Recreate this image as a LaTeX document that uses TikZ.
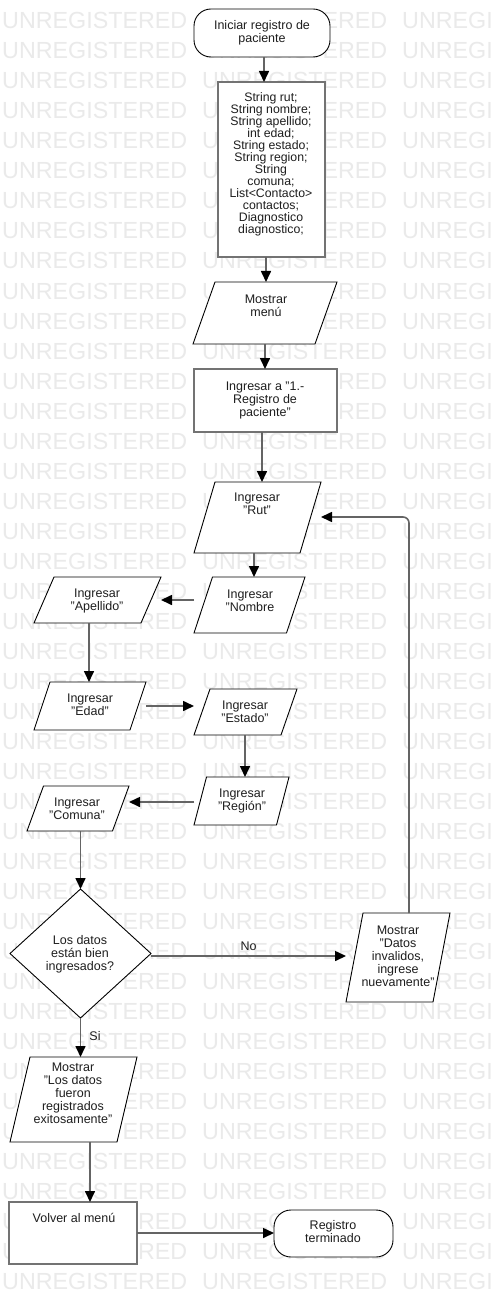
\documentclass[tikz,border=0pt]{standalone}
\usepackage{fontspec}
\setmainfont{Liberation Sans}
\usetikzlibrary{arrows.meta,calc}

\definecolor{wm}{RGB}{234,234,234}
\definecolor{edgecol}{RGB}{100,100,100}
\definecolor{boxcol}{RGB}{115,115,115}
\definecolor{ink}{RGB}{30,30,30}

\tikzset{
  frame/.style={inner sep=0pt, outer sep=0pt},
  txt/.style={align=center, inner sep=0pt, text=ink, font=\fontsize{12.5}{13}\selectfont},
  txtdense/.style={txt, font=\fontsize{12.3}{12}\selectfont},
  termline/.style={draw=black, line width=0.9pt, fill=white, rounded corners=17pt},
  boxline/.style={draw=boxcol, line width=1.8pt, fill=white},
  ioline/.style={draw=black, line width=0.9pt, fill=white, line join=miter},
  arr/.style={draw=edgecol, line width=1.6pt, -{Triangle[length=11pt,width=10pt,color=black]}},
  wmtext/.style={anchor=base west, inner sep=0pt, text=wm, font=\fontsize{23.3}{23.3}\selectfont},
}

% input/output shape: name, left x, right x, top y, bottom y, slant
\newcommand\ioshape[6]{%
  \node[frame, minimum width={#3-#2}, minimum height={#5-#4}] (#1) at ({(#2+#3)/2},{(#4+#5)/2}) {};
  \draw[ioline] (#2+#6,#4) -- (#3,#4) -- (#3-#6,#5) -- (#2,#5) -- cycle;
}
% process box: name, left x, right x, top y, bottom y
\newcommand\procbox[5]{%
  \node[frame, boxline, minimum width={#3-#2}, minimum height={#5-#4}] (#1) at ({(#2+#3)/2},{(#4+#5)/2}) {};
}
% terminator: name, left x, right x, top y, bottom y
\newcommand\termbox[5]{%
  \node[frame, termline, minimum width={#3-#2}, minimum height={#5-#4}] (#1) at ({(#2+#3)/2},{(#4+#5)/2}) {};
}

\begin{document}
\begin{tikzpicture}[x=1pt,y=-1pt]
\useasboundingbox (0,0) rectangle (490,1305);
\fill[white] (0,0) rectangle (490,1305);
\clip (0,0) rectangle (490,1305);

% background watermark rows
\foreach \r in {0,...,42}{
  \foreach \c in {0,1,2}{
    \node[wmtext] (wm-\r-\c) at (2+200*\c, 29+30*\r) {UNREGISTERED};
  }
}

% shapes
\termbox{start}{194}{330}{9}{57}
\procbox{decl}{218}{325}{82}{257}
\ioshape{menu}{193}{337}{282}{344}{22}
\procbox{opt}{194}{337}{369}{432}
\ioshape{rut}{194}{321}{482}{553}{21}
\ioshape{nombre}{194}{305}{577}{633}{18.5}
\ioshape{apellido}{34}{161}{577}{623}{20}
\ioshape{edad}{34}{146}{682}{730}{16}
\ioshape{estado}{194}{297}{689}{735}{16}
\ioshape{region}{194}{289}{777}{825}{12.5}
\ioshape{comuna}{27}{129}{786}{831}{16.5}
\node[frame, minimum width=141, minimum height=129] (check) at (80.5,953.5) {};
\draw[ioline] (check.north) -- (check.east) -- (check.south) -- (check.west) -- cycle;
\ioshape{invalid}{346}{450}{913}{1002}{17}
\ioshape{exito}{10}{137}{1057}{1142}{20}
\procbox{volver}{9}{137}{1202}{1264}
\termbox{fin}{274}{393}{1210}{1257}

% texts
\node[txt] (t-start) at (262,32.5) {Iniciar registro de\\paciente};
\node[txtdense] (t-decl) at (271,164) {String rut;\\String nombre;\\String apellido;\\int edad;\\String estado;\\String region;\\String\\comuna;\\List<Contacto>\\contactos;\\Diagnostico\\diagnostico;};
\node[txt] (t-menu) at (266,305.5) {Mostrar\\menú};
\node[txt] (t-opt) at (265,400) {Ingresar a "1.-\\Registro de\\paciente"};
\node[txt] (t-rut) at (257,503.5) {Ingresar\\"Rut"};
\node[txt] (t-nombre) at (250,600.5) {Ingresar\\"Nombre};
\node[txt] (t-apellido) at (97,600.5) {Ingresar\\"Apellido"};
\node[txt] (t-edad) at (90,704.5) {Ingresar\\"Edad"};
\node[txt] (t-estado) at (245,711.5) {Ingresar\\"Estado"};
\node[txt] (t-region) at (242,800.5) {Ingresar\\"Región"};
\node[txt] (t-comuna) at (77,808.5) {Ingresar\\"Comuna"};
\node[txt] (t-check) at (80,954) {Los datos\\están bien\\ingresados?};
\node[txt] (t-invalid) at (398,956) {Mostrar\\"Datos\\invalidos,\\ingrese\\nuevamente"};
\node[txt] (t-exito) at (73,1093) {Mostrar\\"Los datos\\fueron\\registrados\\exitosamente"};
\node[txt] (t-volver) at (74,1218) {Volver al menú};
\node[txt] (t-fin) at (333,1231.5) {Registro\\terminado};

% connector lanes
\coordinate (lane-a) at (264,0);
\coordinate (lane-b) at (266,0);
\coordinate (lane-c) at (265,0);
\coordinate (lane-d) at (262,0);
\coordinate (lane-e) at (254,0);
\coordinate (lane-f) at (89,0);
\coordinate (lane-g) at (245,0);
\coordinate (lane-h) at (90,0);
\coordinate (lane-loop) at (409,0);
\coordinate (row-a) at (0,600);
\coordinate (row-b) at (0,706);
\coordinate (row-c) at (0,802);
\coordinate (row-no) at (0,956);
\coordinate (row-end) at (0,1233);
\coordinate (row-loop) at (0,517);

% connectors
\draw[arr] (start.south -| lane-a) -- (decl.north -| lane-a);
\draw[arr] (decl.south -| lane-b) -- (menu.north -| lane-b);
\draw[arr] (menu.south -| lane-c) -- (opt.north -| lane-c);
\draw[arr] (opt.south -| lane-d) -- (rut.north -| lane-d);
\draw[arr] (rut.south -| lane-e) -- (nombre.north -| lane-e);
\draw[arr] (nombre.west |- row-a) -- (apellido.east |- row-a);
\draw[arr] (apellido.south -| lane-f) -- (edad.north -| lane-f);
\draw[arr] (edad.east |- row-b) -- (estado.west |- row-b);
\draw[arr] (estado.south -| lane-g) -- (region.north -| lane-g);
\draw[arr] (region.west |- row-c) -- (comuna.east |- row-c);
\draw[arr] (comuna.south -| check.north) -- (check.north);
\draw[arr] (check.east |- row-no) -- node[txt, above=5pt] (lbl-no) {No} (invalid.west |- row-no);
\draw[arr, rounded corners=6pt] (invalid.north -| lane-loop) -- (lane-loop |- row-loop) -- (rut.east |- row-loop);
\draw[arr] (check.south) -- (check.south |- exito.north);
\node[txt] (lbl-si) at (95,1036) {Si};
\draw[arr] (exito.south -| lane-h) -- (volver.north -| lane-h);
\draw[arr] (volver.east |- row-end) -- (fin.west |- row-end);
\end{tikzpicture}
\end{document}
